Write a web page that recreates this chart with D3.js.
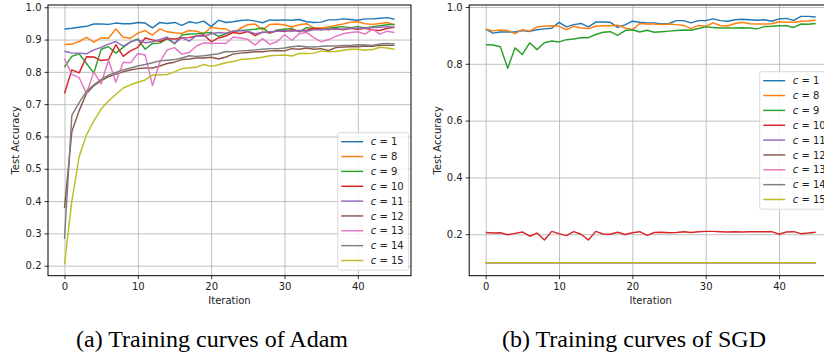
<!DOCTYPE html>
<html>
  <head>
    <meta charset="UTF-8" />
    <script src="https://cdn.jsdelivr.net/npm/d3@7"></script>
    <title>Training curves</title>
    <style type="text/css">
      body { margin: 0; background: #fff; }
      text { font-family: "DejaVu Sans", sans-serif; }
    </style>
  </head>
  <body>
    <div id="chartcontainer"></div>
    <script>
      // series labels and colours (matplotlib tab10)
      const labels = ["1", "8", "9", "10", "11", "12", "13", "14", "15"];
      const colors = ["#1f77b4", "#ff7f0e", "#2ca02c", "#d62728", "#9467bd",
                      "#8c564b", "#e377c2", "#7f7f7f", "#bcbd22"];
      const iterations = d3.range(46);
      const xTicks = [0, 10, 20, 30, 40];
      const adamYTicks = [0.2, 0.3, 0.4, 0.5, 0.6, 0.7, 0.8, 0.9, 1.0];
      const sgdYTicks = [0.2, 0.4, 0.6, 0.8, 1.0];
      const captions = ["(a) Training curves of Adam", "(b) Training curves of SGD"];

      // Adam test accuracy
      const adamC1 = [0.933,0.935,0.938,0.941,0.948,0.948,0.947,0.951,0.949,0.949,
        0.953,0.951,0.936,0.953,0.950,0.953,0.944,0.955,0.951,0.957,
        0.940,0.960,0.953,0.955,0.959,0.961,0.957,0.952,0.961,0.960,
        0.961,0.960,0.962,0.955,0.953,0.954,0.961,0.961,0.964,0.962,
        0.960,0.964,0.964,0.966,0.968,0.963];
      const adamC8 = [0.885,0.886,0.894,0.907,0.892,0.905,0.904,0.933,0.907,0.904,
        0.920,0.928,0.914,0.933,0.924,0.921,0.919,0.928,0.926,0.918,
        0.938,0.934,0.933,0.921,0.935,0.946,0.948,0.930,0.947,0.948,
        0.945,0.939,0.946,0.949,0.936,0.936,0.939,0.944,0.948,0.954,
        0.955,0.949,0.947,0.950,0.953,0.945];
      const adamC9 = [0.815,0.848,0.856,0.826,0.796,0.870,0.878,0.858,0.876,0.893,
        0.902,0.870,0.888,0.889,0.903,0.887,0.914,0.917,0.918,0.920,
        0.922,0.910,0.918,0.926,0.928,0.930,0.932,0.936,0.920,0.930,
        0.932,0.934,0.924,0.937,0.935,0.930,0.935,0.938,0.940,0.937,
        0.940,0.936,0.940,0.943,0.946,0.947];
      const adamC10 = [0.733,0.806,0.797,0.847,0.846,0.835,0.838,0.884,0.848,0.865,
        0.876,0.905,0.899,0.894,0.903,0.902,0.905,0.906,0.911,0.915,
        0.893,0.905,0.911,0.922,0.919,0.925,0.912,0.923,0.921,0.927,
        0.925,0.930,0.927,0.929,0.934,0.933,0.930,0.934,0.930,0.935,
        0.932,0.935,0.930,0.928,0.935,0.938];
      const adamC11 = [0.864,0.858,0.858,0.856,0.868,0.876,0.886,0.894,0.880,0.892,
        0.900,0.890,0.893,0.900,0.908,0.888,0.906,0.895,0.912,0.910,
        0.918,0.922,0.920,0.926,0.928,0.926,0.918,0.922,0.924,0.926,
        0.928,0.926,0.928,0.926,0.930,0.930,0.932,0.932,0.933,0.934,
        0.935,0.935,0.937,0.938,0.940,0.938];
      const adamC12 = [0.378,0.615,0.680,0.733,0.757,0.772,0.785,0.793,0.800,0.806,
        0.810,0.812,0.812,0.818,0.826,0.830,0.838,0.840,0.843,0.843,
        0.845,0.840,0.846,0.855,0.858,0.860,0.862,0.862,0.865,0.866,
        0.865,0.872,0.870,0.874,0.870,0.872,0.866,0.875,0.877,0.878,
        0.878,0.880,0.879,0.882,0.882,0.882];
      const adamC13 = [0.841,0.792,0.782,0.733,0.800,0.763,0.837,0.768,0.830,0.828,
        0.857,0.852,0.758,0.830,0.868,0.875,0.855,0.860,0.880,0.890,
        0.888,0.889,0.888,0.908,0.905,0.900,0.883,0.903,0.885,0.894,
        0.915,0.898,0.918,0.922,0.906,0.893,0.900,0.910,0.918,0.922,
        0.924,0.917,0.932,0.917,0.926,0.922];
      const adamC14 = [0.283,0.665,0.705,0.740,0.760,0.777,0.790,0.798,0.806,0.812,
        0.818,0.823,0.828,0.834,0.836,0.838,0.843,0.850,0.848,0.850,
        0.853,0.856,0.863,0.862,0.865,0.866,0.868,0.870,0.872,0.872,
        0.874,0.878,0.880,0.878,0.877,0.879,0.880,0.880,0.882,0.882,
        0.884,0.883,0.882,0.886,0.888,0.886];
      const adamC15 = [0.204,0.400,0.538,0.605,0.648,0.685,0.710,0.730,0.750,0.760,
        0.768,0.775,0.790,0.791,0.792,0.800,0.810,0.813,0.814,0.823,
        0.817,0.822,0.828,0.832,0.838,0.840,0.842,0.845,0.850,0.851,
        0.852,0.849,0.857,0.857,0.858,0.865,0.862,0.863,0.867,0.870,
        0.870,0.867,0.869,0.876,0.874,0.870];

      // SGD test accuracy
      const sgdC1 = [0.922,0.908,0.912,0.912,0.912,0.917,0.914,0.920,0.923,0.925,
        0.946,0.930,0.938,0.942,0.930,0.947,0.947,0.946,0.928,0.937,
        0.950,0.946,0.944,0.944,0.940,0.942,0.952,0.952,0.944,0.952,
        0.952,0.958,0.952,0.950,0.955,0.957,0.955,0.953,0.955,0.950,
        0.958,0.960,0.953,0.967,0.967,0.965];
      const sgdC8 = [0.922,0.916,0.919,0.917,0.906,0.920,0.915,0.930,0.932,0.934,
        0.932,0.920,0.932,0.926,0.924,0.932,0.934,0.934,0.936,0.926,
        0.920,0.942,0.940,0.940,0.938,0.940,0.938,0.935,0.924,0.935,
        0.932,0.944,0.935,0.933,0.942,0.946,0.941,0.940,0.940,0.941,
        0.948,0.946,0.946,0.950,0.951,0.954];
      const sgdC9 = [0.867,0.866,0.860,0.784,0.856,0.833,0.874,0.850,0.874,0.880,
        0.877,0.885,0.887,0.892,0.892,0.903,0.911,0.913,0.900,0.917,
        0.920,0.912,0.918,0.911,0.913,0.915,0.917,0.919,0.918,0.924,
        0.930,0.928,0.926,0.926,0.926,0.927,0.926,0.923,0.931,0.932,
        0.934,0.934,0.928,0.940,0.939,0.942];
      const sgdC10 = [0.206,0.204,0.205,0.198,0.203,0.208,0.193,0.204,0.180,0.210,
        0.202,0.195,0.209,0.200,0.180,0.210,0.201,0.200,0.207,0.199,
        0.205,0.209,0.196,0.206,0.207,0.205,0.206,0.209,0.206,0.209,
        0.210,0.210,0.209,0.208,0.209,0.208,0.209,0.209,0.209,0.209,
        0.200,0.208,0.209,0.202,0.204,0.207];
      // c = 11 .. 15 stay at chance level (0.1) for every iteration
      const sgdC11 = [0.1,0.1,0.1,0.1,0.1,0.1,0.1,0.1,0.1,0.1,0.1,0.1,0.1,0.1,0.1,0.1,
        0.1,0.1,0.1,0.1,0.1,0.1,0.1,0.1,0.1,0.1,0.1,0.1,0.1,0.1,0.1,0.1,
        0.1,0.1,0.1,0.1,0.1,0.1,0.1,0.1,0.1,0.1,0.1,0.1,0.1,0.1];
      const sgdC12 = sgdC11.slice();
      const sgdC13 = sgdC11.slice();
      const sgdC14 = sgdC11.slice();
      const sgdC15 = sgdC11.slice();

      const adamSeries = [adamC1, adamC8, adamC9, adamC10, adamC11, adamC12, adamC13, adamC14, adamC15];
      const sgdSeries = [sgdC1, sgdC8, sgdC9, sgdC10, sgdC11, sgdC12, sgdC13, sgdC14, sgdC15];

      var svg = d3
        .select("#chartcontainer")
        .append("svg")
        .attr("width", 824)
        .attr("height", 353);

      svg.append("rect").attr("width", 824).attr("height", 353).attr("fill", "#fff");

      function drawPanel(p) {
        var x = d3.scaleLinear().domain([-2.25, 47.25]).range([p.left, p.right]);
        var y = d3.scaleLinear().domain(p.yDomain).range([p.bottom, p.top]);
        var g = svg.append("g");

        // grid
        g.append("g")
          .attr("transform", "translate(0," + p.bottom + ")")
          .call(d3.axisBottom(x).tickValues(xTicks).tickSize(p.top - p.bottom).tickFormat(""))
          .call((a) => a.select(".domain").remove())
          .selectAll("line").attr("stroke", "#b0b0b0").attr("stroke-width", 0.8);
        g.append("g")
          .attr("transform", "translate(" + p.left + ",0)")
          .call(d3.axisLeft(y).tickValues(p.yTicks).tickSize(p.left - p.right).tickFormat(""))
          .call((a) => a.select(".domain").remove())
          .selectAll("line").attr("stroke", "#b0b0b0").attr("stroke-width", 0.8);

        // lines
        var line = d3.line().x((d, i) => x(iterations[i])).y((d) => y(d));
        p.series.forEach(function (s, k) {
          g.append("path")
            .datum(s)
            .attr("fill", "none")
            .attr("stroke", colors[k])
            .attr("stroke-width", 1.45)
            .attr("stroke-linejoin", "round")
            .attr("d", line);
        });

        // frame
        g.append("rect")
          .attr("x", p.left).attr("y", p.top)
          .attr("width", p.right - p.left).attr("height", p.bottom - p.top)
          .attr("fill", "none").attr("stroke", "#000").attr("stroke-width", 1);

        // axes
        var xa = g.append("g")
          .attr("transform", "translate(0," + p.bottom + ")")
          .call(d3.axisBottom(x).tickValues(xTicks).tickSize(3.5).tickPadding(4).tickFormat(d3.format("d")));
        var ya = g.append("g")
          .attr("transform", "translate(" + p.left + ",0)")
          .call(d3.axisLeft(y).tickValues(p.yTicks).tickSize(3.5).tickPadding(3).tickFormat(d3.format(".1f")));
        [xa, ya].forEach(function (a) {
          a.select(".domain").remove();
          a.selectAll("line").attr("stroke", "#000").attr("stroke-width", 0.8);
          a.selectAll("text").attr("fill", "#222").style("font-size", "10px")
            .style("font-family", '"DejaVu Sans", sans-serif');
        });

        // axis labels
        g.append("text")
          .attr("x", (p.left + p.right) / 2).attr("y", 303.5)
          .attr("text-anchor", "middle").style("font-size", "10px").attr("fill", "#222")
          .text("Iteration");
        g.append("text")
          .attr("transform", "translate(" + p.yLabelX + "," + (p.top + p.bottom) / 2 + ") rotate(-90)")
          .attr("text-anchor", "middle").style("font-size", "10px").attr("fill", "#222")
          .text("Test Accuracy");

        // legend
        var lg = g.append("g").attr("transform", "translate(" + p.legendX + "," + p.legendY + ")");
        lg.append("rect")
          .attr("width", 71).attr("height", 137.5).attr("rx", 2)
          .attr("fill", "#fff").attr("fill-opacity", 0.8)
          .attr("stroke", "#d0d0d0").attr("stroke-width", 0.8);
        labels.forEach(function (c, k) {
          var yy = 9 + k * 14.85;
          lg.append("line")
            .attr("x1", 3.5).attr("x2", 25.5).attr("y1", yy).attr("y2", yy)
            .attr("stroke", colors[k]).attr("stroke-width", 1.45);
          var t = lg.append("text").attr("x", 33).attr("y", yy + 3.6)
            .style("font-size", "10px").attr("fill", "#222");
          t.append("tspan").style("font-style", "italic").text("c");
          t.append("tspan").text(" = " + c);
        });

        // caption
        svg.append("text")
          .attr("x", p.captionX).attr("y", 347)
          .attr("text-anchor", "middle")
          .style("font-family", '"Liberation Serif", "Times New Roman", serif')
          .style("font-size", "24px").attr("fill", "#000")
          .text(p.caption);
      }

      drawPanel({
        left: 48, right: 411, top: 5, bottom: 275.7,
        yDomain: [0.169, 1.007], yTicks: adamYTicks, series: adamSeries,
        yLabelX: 19, legendX: 337.7, legendY: 132.7,
        captionX: 212, caption: captions[0]
      });
      drawPanel({
        left: 469.2, right: 832.2, top: 5, bottom: 275.7,
        yDomain: [0.054, 1.007], yTicks: sgdYTicks, series: sgdSeries,
        yLabelX: 441, legendX: 759.7, legendY: 71.7,
        captionX: 634, caption: captions[1]
      });
    </script>
  </body>
</html>
